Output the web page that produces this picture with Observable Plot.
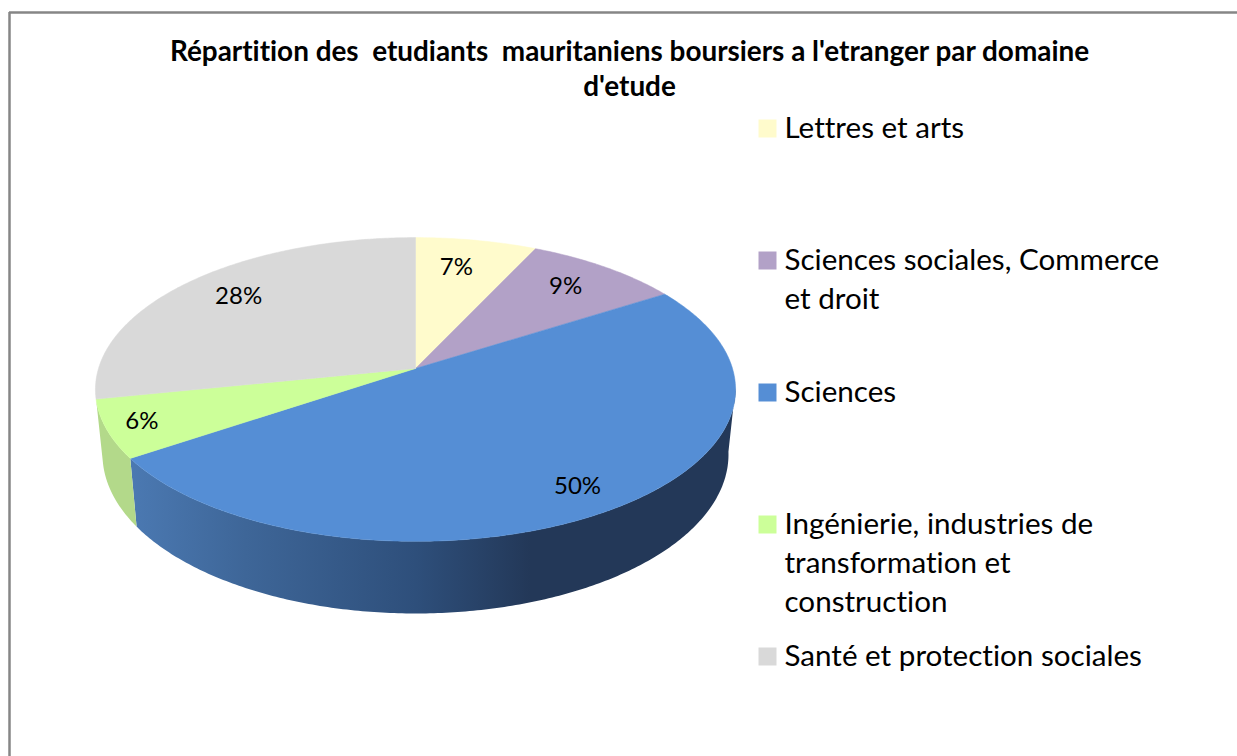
<!DOCTYPE html>
<html lang="fr">
<head>
<meta charset="utf-8">
<script src="https://cdn.jsdelivr.net/npm/d3@7"></script>
<script src="https://cdn.jsdelivr.net/npm/@observablehq/plot@0.6"></script>
<style>
html,body{margin:0;padding:0;background:#fff}
svg{display:block}
svg text,svg tspan{white-space:pre;font-variant-ligatures:none}
</style>
</head>
<body>
<div id="chart"></div>
<script>
// Data
const categories = ["Lettres et arts","Sciences sociales, Commerce\net droit","Sciences","Ingénierie, industries de\ntransformation et\nconstruction","Santé et protection sociales"];
const shares = [7, 9, 49.6, 6.2, 28.2];
const colors = ["#FFFBCC","#B2A1C7","#558ED5","#CCFF99","#D9D9D9"];
const wallGreen = "#B3D98A";
const wallStops = [130, 245, 415, 530];
const wallStopColors = ["#4B79B2", "#3E6698", "#2E4F7B", "#233858"];
const titleText = "Répartition des  etudiants  mauritaniens boursiers a l'etranger par domaine\nd'etude";

// Layout of the tilted disc (chart units = px)
const W = 1237, H = 756, CX = 415;
const p = 0.138;
const topFace = {y0: 368, a: 317, b: 149};
const baseFace = {y0: 432, a: 310, b: 156};
const wallStartAngle = 97 * Math.PI / 180; // where the rim starts to hide nothing
const labelRadius = [0.76, 0.79, 0.85, 0.89, 0.79];
const labelShift = [-1.8, -0.9, 0.3, 0.3, 1.6]; // degrees
const project = (f, t, r = 1) => {
  const u = r * Math.sin(t), v = -r * Math.cos(t), d = 1 - p * v;
  return {x: CX + f.a * u / d, y: f.y0 + f.b * v / d};
};
const arcs = d3.pie().sort(null).startAngle(0).endAngle(2 * Math.PI)(shares);
const steps = (a0, a1) => {
  const n = Math.ceil((a1 - a0) * 90);
  return d3.range(n + 1).map(i => a0 + (a1 - a0) * i / n);
};

// Slices of the top face
const facePts = arcs.flatMap((arc, i) =>
  [{x: CX, y: topFace.y0}, ...steps(arc.startAngle, arc.endAngle).map(t => project(topFace, t)), {x: CX, y: topFace.y0}]
    .map(q => ({...q, id: "s" + i, fill: colors[i]})));

// Wall bands below the rim
const band = i => {
  const ts = steps(Math.max(arcs[i].startAngle, wallStartAngle), arcs[i].endAngle);
  const pts = [...ts.map(t => project(topFace, t)), ...ts.slice().reverse().map(t => project(baseFace, t))];
  return [...pts, pts[0]];
};
const blueWall = band(2), greenWall = band(3);

const wallGradient = (index, {x}) => {
  const defs = d3.create("svg:defs");
  const g = defs.append("linearGradient").attr("id", "wallGrad")
    .attr("gradientUnits", "userSpaceOnUse")
    .attr("x1", x(wallStops[0])).attr("x2", x(wallStops[wallStops.length - 1]))
    .attr("y1", 0).attr("y2", 0);
  wallStops.forEach((s, i) => g.append("stop")
    .attr("offset", (s - wallStops[0]) / (wallStops[wallStops.length - 1] - wallStops[0]))
    .attr("stop-color", wallStopColors[i]));
  return defs.node();
};

// Percent labels
const labels = arcs.map((arc, i) => ({
  ...project(topFace, (arc.startAngle + arc.endAngle) / 2 + labelShift[i] * Math.PI / 180, labelRadius[i]),
  text: Math.round(shares[i]) + "%"
}));

// Legend
const legendX = 767, legendTextX = 784, legendY0 = 128, legendStep = 132;
const legend = categories.map((c, i) => ({c, color: colors[i], y: legendY0 + i * legendStep}));

const chart = Plot.plot({
  width: W, height: H, margin: 0,
  x: {domain: [0, W], range: [0, W], axis: null},
  y: {domain: [0, H], range: [0, H], axis: null},
  style: {fontFamily: "Lato, sans-serif", background: "#fff", color: "#000"},
  marks: [
    wallGradient,
    Plot.ruleX([9], {y1: 12, y2: H, stroke: "#868686", strokeWidth: 2.5}),
    Plot.ruleY([12], {x1: 9, x2: W, stroke: "#868686", strokeWidth: 2.5}),
    Plot.line(blueWall, {x: "x", y: "y", fill: "url(#wallGrad)", stroke: "none", curve: "linear"}),
    Plot.line(greenWall, {x: "x", y: "y", fill: wallGreen, stroke: "none", curve: "linear"}),
    Plot.line(facePts, {x: "x", y: "y", z: "id", fill: "fill", stroke: "fill", strokeWidth: 0.5, curve: "linear"}),
    Plot.text(labels, {x: "x", y: "y", text: "text", fontSize: 24, fill: "#000"}),
    Plot.text([titleText], {x: 629, y: 67, text: d => d, fontSize: 27.9, fontWeight: "bold", lineHeight: 1.25, fill: "#000"}),
    Plot.dot(legend, {x: () => legendX, y: "y", symbol: "square", r: 10.15, fill: "color", stroke: "none"}),
    Plot.text(legend, {x: () => legendTextX, y: d => d.y - 18, text: "c", textAnchor: "start", lineAnchor: "top", fontSize: 29.6, lineHeight: 1.318, fill: "#000"})
  ]
});
document.getElementById("chart").append(chart);
</script>
</body>
</html>
